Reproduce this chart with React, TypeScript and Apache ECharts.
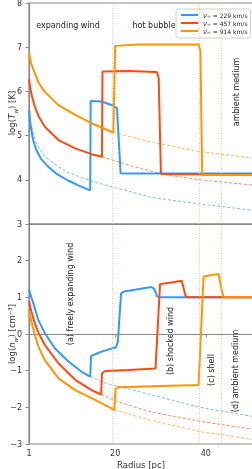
import React, { useEffect, useRef } from "react";
import * as echarts from "echarts";

// ---- data (radius in pc, log values) ----
const speeds = ["229", "457", "914"];
const colors = ["#3399ff", "#ff4a10", "#ff9500"];

const blueT = [[1,5.58],[1.4,5.2],[1.9,4.9],[2.6,4.68],[3.6,4.48],[5,4.32],[7,4.14],[9.5,3.99],[12,3.87],[14.5,3.76],[14.6,5.78],[17,5.77],[19.5,5.68],[20.4,5.62],[21.2,4.15],[23,4.14],[50.4,4.14]];
const redT = [[1,6.27],[1.5,5.95],[2.3,5.65],[3.2,5.42],[4.5,5.2],[7.5,4.9],[11.2,4.71],[14.8,4.58],[17.1,4.52],[17.2,6.45],[23,6.46],[29.2,6.44],[29.6,6.3],[30.1,4.13],[50.4,4.12]];
const orangeT = [[1,6.87],[1.5,6.62],[2.3,6.41],[3.2,6.18],[4.5,5.99],[7.5,5.69],[11.2,5.47],[14.8,5.28],[19.6,5.07],[20.0,7.03],[25,7.06],[38.4,7.06],[38.8,6.9],[39.2,4.11],[50.4,4.11]];

const blueTd = [[1.6,5.2],[2.5,4.85],[4.5,4.52],[9,4.19],[15,3.96],[22,3.77],[28,3.6],[39,3.45],[50.4,3.31]];
const redTd = [[17.1,4.52],[24,4.3],[31.4,4.11],[38.7,4.0],[50.4,3.88]];
const orangeTd = [[19.6,5.07],[27.7,4.86],[38.7,4.64],[50.4,4.49]];

const blueN = [[1,1.22],[1.5,1.0],[2,0.82],[3,0.4],[4.5,0.02],[6.7,-0.39],[9.7,-0.75],[12.6,-1.03],[14.5,-1.16],[14.7,-0.6],[15.5,-0.56],[17,-0.48],[20.2,-0.36],[20.6,-0.2],[21.3,1.1],[22,1.16],[28,1.28],[28.6,1.24],[29.3,1.02],[30,1.0],[50.4,1.0]];
const redN = [[1,0.9],[1.5,0.62],[2.3,0.29],[3.2,0.0],[4.5,-0.3],[7.5,-0.8],[11.2,-1.25],[14.8,-1.53],[16.9,-1.65],[17.1,-1.07],[17.8,-1.01],[23,-0.98],[28.9,-0.94],[29.9,1.36],[32,1.4],[34.7,1.45],[35.5,1.05],[36,1.0],[50.4,1.0]];
const orangeN = [[1,0.62],[1.5,0.35],[2.3,-0.03],[3.2,-0.38],[4.5,-0.71],[7.5,-1.21],[11.2,-1.53],[14.8,-1.75],[19.8,-2.07],[20.1,-1.5],[20.6,-1.45],[30,-1.42],[38.4,-1.39],[39.5,1.56],[41,1.6],[42.8,1.64],[43.5,1.2],[43.9,1.0],[50.4,1.0]];

const blueNd = [[14.5,-1.16],[17,-1.3],[19,-1.38],[24,-1.53],[30,-1.72],[38.7,-2.0],[50.4,-2.25]];
const redNd = [[16.9,-1.65],[20,-1.82],[27.7,-2.12],[38.7,-2.38],[50.4,-2.6]];
const orangeNd = [[19.8,-2.07],[27.7,-2.35],[38.7,-2.66],[50.4,-2.88]];

const boundaries = [19.3, 38.6, 43.5];
const xTicks = [1, 20, 40];

const FONT = "DejaVu Sans";

export default function App() {
  const ref = useRef<HTMLDivElement>(null);
  useEffect(() => {
    if (!ref.current) return;
    const chart = echarts.init(ref.current, undefined, { renderer: "svg" });
    const solidT = [blueT, redT, orangeT];
    const dashT = [blueTd, redTd, orangeTd];
    const solidN = [blueN, redN, orangeN];
    const dashN = [blueNd, redNd, orangeNd];
    const series: any[] = [];
    const dashStyle = (c: string) => ({ color: c, width: 0.9, type: [3, 2], opacity: 0.75 });
    dashT.forEach((d, i) => series.push({ type: "line", xAxisIndex: 0, yAxisIndex: 0, data: d, showSymbol: false, silent: true, lineStyle: dashStyle(colors[i]), itemStyle: { color: colors[i] }, z: 1 }));
    dashN.forEach((d, i) => series.push({ type: "line", xAxisIndex: 1, yAxisIndex: 1, data: d, showSymbol: false, silent: true, lineStyle: dashStyle(colors[i]), itemStyle: { color: colors[i] }, z: 1 }));
    const vmark = {
      silent: true, symbol: "none", label: { show: false },
      lineStyle: { color: "#ffb060", type: [1, 1.5], width: 0.8 },
      data: boundaries.map((b) => ({ xAxis: b })),
    };
    solidT.forEach((d, i) => series.push({ name: speeds[i], type: "line", xAxisIndex: 0, yAxisIndex: 0, data: d, showSymbol: false, lineStyle: { color: colors[i], width: 2 }, itemStyle: { color: colors[i] }, z: 3, markLine: i === 0 ? vmark : undefined }));
    solidN.forEach((d, i) => series.push({ name: speeds[i], type: "line", xAxisIndex: 1, yAxisIndex: 1, data: d, showSymbol: false, lineStyle: { color: colors[i], width: 2 }, itemStyle: { color: colors[i] }, z: 3, markLine: i === 0 ? vmark : undefined }));

    const minus = (v: number) => String(v).replace("-", "\u2212");
    const axisCommon = {
      axisLine: { show: true, lineStyle: { color: "#8a8a8a", width: 1.2 } },
      splitLine: { show: false },
    };
    const nameRich = {
      n: { fontSize: 8.5, fontFamily: FONT, fill: "#333", lineHeight: 12, verticalAlign: "middle" },
      i: { fontStyle: "italic", fontSize: 8.5, fontFamily: FONT, fill: "#333", lineHeight: 12, verticalAlign: "middle" },
      s: { fontStyle: "italic", fontSize: 6, fontFamily: FONT, fill: "#333", lineHeight: 12, verticalAlign: "bottom" },
    };
    const txt = (x: number, y: number, text: string, rot = 0) => ({
      type: "text", x, y, rotation: rot,
      style: { text, fontSize: 8, fontFamily: FONT, fill: "#222", textAlign: "center", textVerticalAlign: "middle" },
    });
    chart.setOption({
      animation: false,
      textStyle: { fontFamily: FONT },
      grid: [
        { left: 29, top: 3, width: 224, height: 221, show: true, borderColor: "#8a8a8a", borderWidth: 1.2, containLabel: false, outerBoundsMode: "none" },
        { left: 29, top: 224, width: 224, height: 220, show: true, borderColor: "#8a8a8a", borderWidth: 1.2, containLabel: false, outerBoundsMode: "none" },
      ],
      xAxis: [
        { type: "value", gridIndex: 0, min: 1, max: 50.4, ...axisCommon, axisTick: { show: false }, axisLabel: { show: false } },
        {
          type: "value", gridIndex: 1, min: 1, max: 50.4, ...axisCommon,
          axisTick: { show: true, length: 3.5, customValues: xTicks, lineStyle: { color: "#8a8a8a" } },
          axisLabel: { customValues: xTicks, fontSize: 8, color: "#333", margin: 5, fontFamily: FONT },
          name: "Radius [pc]", nameLocation: "middle", nameGap: 16,
          nameTextStyle: { fontSize: 8.5, color: "#333", fontFamily: FONT },
        },
      ],
      yAxis: [
        {
          type: "value", gridIndex: 0, min: 3, max: 8, interval: 1, ...axisCommon,
          axisTick: { show: true, length: 3.5, lineStyle: { color: "#8a8a8a" } },
          axisLabel: { fontSize: 8, color: "#333", margin: 7, fontFamily: FONT, formatter: minus },
        },
        {
          type: "value", gridIndex: 1, min: -3, max: 3, interval: 1, ...axisCommon,
          axisTick: { show: true, length: 3.5, lineStyle: { color: "#8a8a8a" } },
          axisLabel: { fontSize: 8, color: "#333", margin: 7, fontFamily: FONT, showMaxLabel: false, formatter: minus },
        },
      ],
      legend: {
        data: speeds, orient: "vertical", left: 176, top: 9,
        icon: "rect", itemWidth: 17, itemHeight: 2, itemGap: 1,
        backgroundColor: "#fff", borderColor: "#d0d0d0", borderWidth: 1, borderRadius: 2,
        padding: [3, 3, 3, 5],
        formatter: (n: string) => `{i|V}{s|\u221e} = ${n} km/s`,
        textStyle: {
          fontSize: 6, color: "#222", fontFamily: FONT,
          rich: {
            i: { fontStyle: "italic", fontSize: 6, fontFamily: FONT, color: "#222" },
            s: { fontSize: 4.5, fontFamily: FONT, color: "#222", padding: [3, 0, 0, 0] },
          },
        },
      },
      graphic: [
        {
          type: "text", x: 12, y: 113, rotation: Math.PI / 2,
          style: { text: "{n|log(}{i|T}{s|w}{n|) [K]}", rich: nameRich, textAlign: "center", textVerticalAlign: "middle", fontFamily: FONT },
        },
        {
          type: "text", x: 12, y: 334, rotation: Math.PI / 2,
          style: { text: "{n|log(}{i|n}{s|w}{n|) [cm\u207b\u00b3]}", rich: nameRich, textAlign: "center", textVerticalAlign: "middle", fontFamily: FONT },
        },
        txt(68, 25, "expanding wind"),
        txt(154, 25, "hot bubble"),
        txt(236, 92, "ambient medium", Math.PI / 2),
        txt(70, 294, "(a) freely expanding wind", Math.PI / 2),
        txt(170, 341, "(b) shocked wind", Math.PI / 2),
        txt(211, 370, "(c) shell", Math.PI / 2),
        txt(235, 371, "(d) ambient medium", Math.PI / 2),
      ],
      series,
    });
    return () => chart.dispose();
  }, []);
  return <div ref={ref} style={{ position: "fixed", left: 0, top: 0, width: 252, height: 469 }} />;
}
